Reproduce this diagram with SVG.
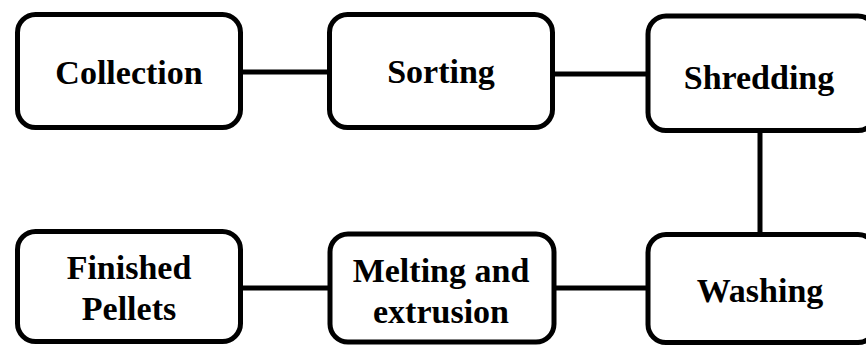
<svg xmlns="http://www.w3.org/2000/svg" width="866" height="347" viewBox="0 0 866 347">
<style>
.box{fill:#fff;stroke:#000;stroke-width:5}
.lbl{font-family:'Liberation Serif','Times New Roman',serif;font-weight:bold;font-size:34px;fill:#000;text-anchor:middle}
.conn{stroke:#000;stroke-width:5;fill:none}
</style>
<rect width="866" height="347" fill="#fff"/>
<g id="connectors">
<line class="conn" x1="240" y1="72" x2="330" y2="72"/>
<line class="conn" x1="552" y1="74" x2="648" y2="74"/>
<line class="conn" x1="760" y1="130" x2="760" y2="235"/>
<line class="conn" x1="240" y1="288" x2="330" y2="288"/>
<line class="conn" x1="554" y1="288" x2="648" y2="288"/>
</g>
<g id="collection">
<rect class="box" x="17.5" y="14.5" width="223" height="113" rx="18"/>
<text class="lbl" x="129" y="84">Collection</text>
</g>
<g id="sorting">
<rect class="box" x="329.5" y="14.5" width="223" height="113" rx="18"/>
<text class="lbl" x="441" y="83">Sorting</text>
</g>
<g id="shredding">
<rect class="box" x="648" y="16" width="228" height="114.5" rx="18"/>
<text class="lbl" x="759" y="89">Shredding</text>
</g>
<g id="washing">
<rect class="box" x="648" y="234.5" width="228" height="108" rx="18"/>
<text class="lbl" x="760" y="302">Washing</text>
</g>
<g id="melting">
<rect class="box" x="330" y="234" width="224" height="108" rx="18"/>
<text class="lbl" x="441" y="282">Melting and</text>
<text class="lbl" x="441" y="323">extrusion</text>
</g>
<g id="finished">
<rect class="box" x="17.5" y="231.5" width="223" height="110" rx="18"/>
<text class="lbl" x="129" y="279">Finished</text>
<text class="lbl" x="129" y="320">Pellets</text>
</g>
</svg>
